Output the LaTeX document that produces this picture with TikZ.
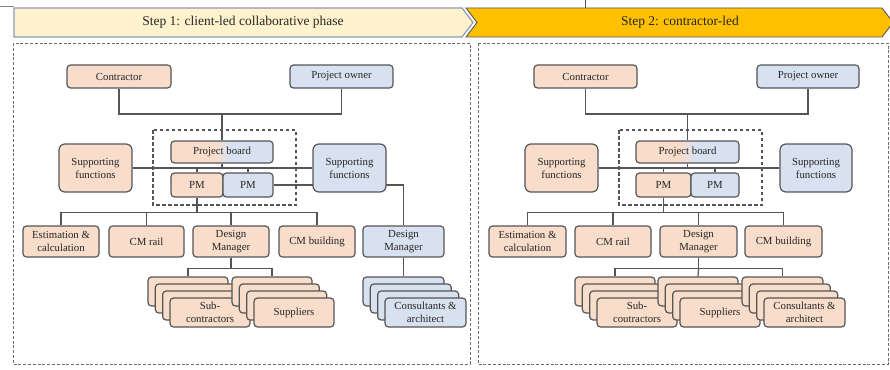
\documentclass[tikz,border=0pt]{standalone}
\usepackage{fontspec}
\setmainfont{Liberation Serif}
\usetikzlibrary{backgrounds}

\definecolor{peach}{HTML}{F8DDCB}
\definecolor{paleblue}{HTML}{D8E1F0}
\definecolor{edge}{HTML}{555555}
\definecolor{creme}{HTML}{FFF2CC}
\definecolor{gold}{HTML}{FFC000}
\definecolor{slate}{HTML}{8C9AB8}
\definecolor{ink}{HTML}{262626}

\tikzset{
  card/.style={draw=edge, line width=1.2pt, rounded corners=3.5pt, inner sep=0pt,
    align=center, font=\fontsize{10.8}{13}\selectfont, text=ink},
  peachcard/.style={card, fill=peach},
  bluecard/.style={card, fill=paleblue},
  roundpeach/.style={peachcard, rounded corners=6pt},
  roundblue/.style={bluecard, rounded corners=6pt},
  splitcard/.style={card, path picture={
    \fill[peach] (path picture bounding box.south west) rectangle (path picture bounding box.north);
    \fill[paleblue] (path picture bounding box.south) rectangle (path picture bounding box.north east);
    \shade[left color=peach, right color=paleblue]
      ([xshift=-8pt]path picture bounding box.south) rectangle ([xshift=8pt]path picture bounding box.north);}},
  link/.style={draw=edge, line width=1.2pt},
  panel/.style={draw=edge!85, line width=0.9pt, dash pattern=on 3pt off 1.8pt},
  core/.style={draw=edge, line width=1.1pt, dash pattern=on 3.5pt off 2.5pt},
  bannertext/.style={font=\fontsize{13.5}{15}\selectfont, text=ink},
}

% box given by its corners: name, style, x1, y1, x2, y2, text
\newcommand\placebox[7]{%
  \node[#2, minimum width={((#5)-(#3))*1pt}, minimum height={((#6)-(#4))*1pt}]
    (#1) at ({((#3)+(#5))/2},{((#4)+(#6))/2}) {#7};}

% stack of four cards, back card first: name, style, left, top, width, text
\newcommand\cardstack[6]{%
  \foreach \k in {0,1,2}{%
    \placebox{#1-\k}{#2}{#3+7.33*\k}{#4+7*\k}{#3+7.33*\k+#5}{#4+7*\k+29}{}}
  \placebox{#1-3}{#2}{#3+22}{#4+21}{#3+22+#5}{#4+50}{#6}}

\begin{document}
\begin{tikzpicture}[x=1pt,y=-1pt]
\useasboundingbox (0,0) rectangle (890,369);

% stray rules along the top edge
\draw[gray, line width=0.8pt] (0,6) -- (14,6);
\draw[gray!60!black, line width=0.8pt] (585,0) -- (585,8);

% phase banners
\draw[slate, line width=1.2pt, fill=creme]
  (14,8) -- (462,8) -- (473,22.5) -- (462,37) -- (14,37) -- cycle;
\node[bannertext] (step1) at (243,22.5) {Step 1: client-led collaborative phase};
\draw[edge, line width=0.9pt, fill=gold]
  (466,8) -- (882,8) -- (893,22.5) -- (882,37) -- (466,37) -- (477,22.5) -- cycle;
\node[bannertext] (step2) at (680,22.5) {Step 2: contractor-led};

% phase panels
\draw[panel] (13,43) rectangle (470,364);
\draw[panel] (478,43) rectangle (888,364);

% ---------- Step 1 ----------
\placebox{con1}{peachcard}{67}{65}{171}{88}{Contractor}
\placebox{own1}{bluecard}{290}{65}{393}{88}{Project owner}
\placebox{pb1}{splitcard}{171}{141}{273}{163}{Project board}
\placebox{sfl1}{roundpeach}{59}{144}{132}{192}{Supporting\\functions}
\placebox{sfr1}{roundblue}{313}{144}{386}{192}{Supporting\\functions}
\placebox{pml1}{peachcard}{171}{173}{223}{197}{PM}
\placebox{pmr1}{bluecard}{223}{173}{273}{197}{PM}
\placebox{est1}{peachcard}{23}{226}{99}{257}{Estimation \&\\calculation}
\placebox{rail1}{peachcard}{109}{226}{184}{257}{CM rail}
\placebox{dm1}{peachcard}{193}{226}{269}{257}{Design\\Manager}
\placebox{bld1}{peachcard}{279}{226}{355}{257}{CM building}
\placebox{dmb1}{bluecard}{363}{226}{444}{257}{Design\\Manager}
\cardstack{sub1}{peachcard}{148}{277}{80}{Sub-\\contractors}
\cardstack{sup1}{peachcard}{232}{277}{80}{Suppliers}
\cardstack{cns1}{bluecard}{363}{277}{81}{Consultants \&\\architect}

% ---------- Step 2 ----------
\placebox{con2}{peachcard}{534}{65}{637}{88}{Contractor}
\placebox{own2}{bluecard}{757}{65}{859}{88}{Project owner}
\placebox{pb2}{splitcard}{636}{141}{739}{163}{Project board}
\placebox{sfl2}{roundpeach}{525}{144}{598}{192}{Supporting\\functions}
\placebox{sfr2}{roundblue}{780}{144}{852}{192}{Supporting\\functions}
\placebox{pml2}{peachcard}{636}{173}{691}{197}{PM}
\placebox{pmr2}{bluecard}{691}{173}{739}{197}{PM}
\placebox{est2}{peachcard}{489}{226}{566}{257}{Estimation \&\\calculation}
\placebox{rail2}{peachcard}{575}{226}{651}{257}{CM rail}
\placebox{dm2}{peachcard}{660}{226}{737}{257}{Design\\Manager}
\placebox{bld2}{peachcard}{745}{226}{822}{257}{CM building}
\cardstack{sub2}{peachcard}{575}{277}{80}{Sub-\\coutractors}
\cardstack{sup2}{peachcard}{658}{277}{80}{Suppliers}
\cardstack{cns2}{peachcard}{742}{277}{81}{Consultants \&\\architect}

% ---------- connectors (behind the boxes) ----------
\begin{scope}[on background layer]
  % step 1
  \draw[core] (153,130) rectangle (296,205);
  \coordinate (top1) at (pb1.north |- 0,114);
  \draw[link] (con1.south) |- (top1) -| (own1.south);
  \draw[link] (top1) -- (pb1.north);
  \draw[link] (sfl1.east) -- (sfr1.west);
  \draw[link] (pb1.south) -- (pb1.south |- sfl1.east);
  \draw[link] (pml1.north) -- (pml1.north |- sfl1.east);
  \draw[link] (pmr1.north) -- (pmr1.north |- sfl1.east);
  \draw[link] (pmr1.east) -| (dmb1.north);
  \draw[link] (pml1.south) -- ++(0,15) coordinate (row1);
  \draw[link] (est1.north) |- (row1) -| (bld1.north);
  \draw[link] (rail1.north) -- (rail1.north |- row1);
  \draw[link] (dm1.north) -- (dm1.north |- row1);
  \draw[link] (dm1.south) -- ++(0,11) coordinate (low1);
  \draw[link] (sub1-0.north) |- (low1) -| (sup1-0.north);
  \draw[link] (dmb1.south) -- (dmb1.south |- cns1-0.north);
  % step 2
  \draw[core] (619,130) rectangle (762,205);
  \coordinate (top2) at (pb2.north |- 0,114);
  \draw[link] (con2.south) |- (top2) -| (own2.south);
  \draw[link] (top2) -- (pb2.north);
  \draw[link] (sfl2.east) -- (sfr2.west);
  \draw[link] (pb2.south) -- (pb2.south |- sfl2.east);
  \draw[link] (pml2.north) -- (pml2.north |- sfl2.east);
  \draw[link] (pmr2.north) -- (pmr2.north |- sfl2.east);
  \draw[link] (pml2.south) -- ++(0,15) coordinate (row2);
  \draw[link] (est2.north) |- (row2) -| (bld2.north);
  \draw[link] (rail2.north) -- (rail2.north |- row2);
  \draw[link] (dm2.north) -- (dm2.north |- row2);
  \draw[link] (dm2.south) -- ++(0,11) coordinate (low2);
  \draw[link] (sub2-0.north) |- (low2) -| (cns2-0.north);
  \draw[link] (low2) -- (sup2-0.north);
\end{scope}
\end{tikzpicture}
\end{document}
